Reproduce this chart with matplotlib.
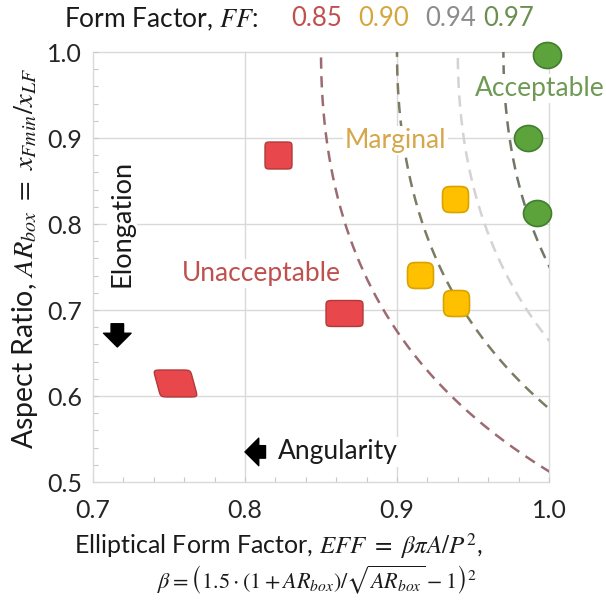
import matplotlib
matplotlib.use('Agg')
import matplotlib.pyplot as plt
import numpy as np
from matplotlib.path import Path

plt.rcParams['font.family'] = ['Lato', 'DejaVu Sans']
plt.rcParams['mathtext.fontset'] = 'stix'

# values
unacc_eff = [0.822, 0.865, 0.754]
unacc_ar = [0.880, 0.697, 0.615]
marg_eff = [0.938, 0.915, 0.939]
marg_ar = [0.829, 0.741, 0.708]
acc_eff = [0.999, 0.986, 0.992]
acc_ar = [0.997, 0.900, 0.813]

# iso form-factor lines
ff_levels = [0.85, 0.90, 0.94, 0.97]
ff_labels = ['0.85', '0.90', '0.94', '0.97']

x_ticks = [0.7, 0.8, 0.9, 1.0]
y_ticks = [0.5, 0.6, 0.7, 0.8, 0.9, 1.0]

# colours
ff_text_colors = ['#c0504d', '#d6a63e', '#8c8c8c', '#6a8f4e']
ff_line_colors = ['#9c6b72', '#7d7b62', '#d3d3d3', '#6f7768']
grid_c = '#d9d9d9'


def blob(w, h, n=8, shear=0.0):
    """rounded box / parallelogram marker, w and h in pixels"""
    t = np.linspace(0, 2 * np.pi, 121)
    c, s = np.cos(t), np.sin(t)
    x = np.sign(c) * np.abs(c) ** (2 / n) * w / 2
    y = np.sign(s) * np.abs(s) ** (2 / n) * h / 2
    x = x + shear * y
    verts = np.column_stack([x, y])
    size_pt = 2 * np.abs(verts).max() * 0.72
    return Path(verts, closed=True), size_pt ** 2


fig = plt.figure(figsize=(6.06, 6.03), dpi=100)
ax = fig.add_axes([93 / 606, 121 / 603, 456 / 606, 430 / 603])
ax.set_xlim(0.7, 1.0)
ax.set_ylim(0.5, 1.0)

# grid
for yv in y_ticks[1:]:
    ax.axhline(yv, color=grid_c, lw=1.0, zorder=0, clip_on=False)
for xv in x_ticks[1:]:
    ax.axvline(xv, color=grid_c, lw=1.0, zorder=0, clip_on=False)

for sp in ['top', 'right']:
    ax.spines[sp].set_visible(False)
for sp in ['left', 'bottom']:
    ax.spines[sp].set_color(grid_c)
    ax.spines[sp].set_linewidth(1.0)

ax.set_xticks(x_ticks)
ax.set_yticks(y_ticks)
ax.set_xticklabels([f'{v:.1f}' for v in x_ticks])
ax.set_yticklabels([f'{v:.1f}' for v in y_ticks])
ax.set_xticks(np.arange(0.7, 1.001, 0.02), minor=True)
ax.set_yticks(np.arange(0.5, 1.001, 0.02), minor=True)
ax.tick_params(which='both', direction='in', length=3.5, width=0.8, color='#c8c8c8')
ax.tick_params(axis='x', which='major', labelsize=18, pad=12, labelcolor='#262626')
ax.tick_params(axis='y', which='major', labelsize=18, pad=8, labelcolor='#262626')

# iso-FF curves: EFF = FF * beta / 4
ar = np.linspace(0.5, 1.0, 300)
beta = (1.5 * (1 + ar) / np.sqrt(ar) - 1) ** 2
for ff, lc in zip(ff_levels, ff_line_colors):
    ax.plot(ff * beta / 4, ar, color=lc, lw=1.8, dashes=(4.5, 3), zorder=2)

# markers
red_shapes = [blob(27, 27, n=10), blob(37, 26, n=10), blob(37, 27, n=10, shear=-0.27)]
for x, y, (mk, sz) in zip(unacc_eff, unacc_ar, red_shapes):
    ax.scatter(x, y, marker=mk, s=sz, facecolor='#e8474b', edgecolor='#b03a3a',
               linewidth=1.0, zorder=4, clip_on=False)

mk, sz = blob(26, 26, n=4.5)
ax.scatter(marg_eff, marg_ar, marker=mk, s=sz, facecolor='#ffc000', edgecolor='#d9a300',
           linewidth=1.2, zorder=4, clip_on=False)

mk, sz = blob(28, 26, n=2)
ax.scatter(acc_eff, acc_ar, marker=mk, s=sz, facecolor='#5da33b', edgecolor='#437d2e',
           linewidth=1.2, zorder=4, clip_on=False)

# region labels
box = dict(fc='white', ec='none', pad=1.5)
ax.text(0.811, 0.742, 'Unacceptable', color='#c0504d', fontsize=19,
        ha='center', va='center', bbox=box, zorder=3)
ax.text(0.899, 0.897, 'Marginal', color='#d6a74a', fontsize=19,
        ha='center', va='center', bbox=box, zorder=3)
ax.text(0.994, 0.958, 'Acceptable', color='#6e9a55', fontsize=19,
        ha='center', va='center', bbox=box, zorder=3, clip_on=False)

ax.text(0.719, 0.801, 'Elongation', color='#1a1a1a', fontsize=19.5, rotation=90,
        ha='center', va='center', bbox=box, zorder=3)
ax.text(0.861, 0.535, 'Angularity', color='#1a1a1a', fontsize=19,
        ha='center', va='center', bbox=box, zorder=3)
arrow = dict(arrowstyle='simple,head_length=0.55,head_width=1.1,tail_width=0.5',
             color='black', shrinkA=0, shrinkB=0)
ax.annotate('', xy=(0.716, 0.657), xytext=(0.716, 0.684), arrowprops=dict(arrow, mutation_scale=18), zorder=5)
ax.annotate('', xy=(0.8, 0.535), xytext=(0.8135, 0.535), arrowprops=dict(arrow, mutation_scale=18), zorder=5)

# header with FF legend
fig.text(64 / 606, 1 - 19 / 603, 'Form Factor, $FF$:', fontsize=19, color='#1a1a1a',
         ha='left', va='center')
for xp, lab, tc in zip([291, 358, 425, 483], ff_labels, ff_text_colors):
    fig.text(xp / 606, 1 - 19 / 603, lab, fontsize=18.5, color=tc, ha='left', va='center')

# axis titles
fig.text(25 / 606, 1 - 258 / 603, r'Aspect Ratio, $AR_{box}\ =\ x_{Fmin}/x_{LF}$',
         fontsize=20.5, rotation=90, ha='center', va='center', color='#1a1a1a')
fig.text(278 / 606, 1 - 546 / 603, r'Elliptical Form Factor, $EFF\ =\ \beta\pi A/P^2$,',
         fontsize=18, ha='center', va='center', color='#1a1a1a')
fig.text(317 / 606, 1 - 580 / 603,
         r'$\beta = \left(1.5\cdot(1 + AR_{box})/\sqrt{AR_{box}} - 1\right)^2$',
         fontsize=16, ha='center', va='center', color='#1a1a1a')

fig.savefig('out.png', dpi=100, facecolor='white')
